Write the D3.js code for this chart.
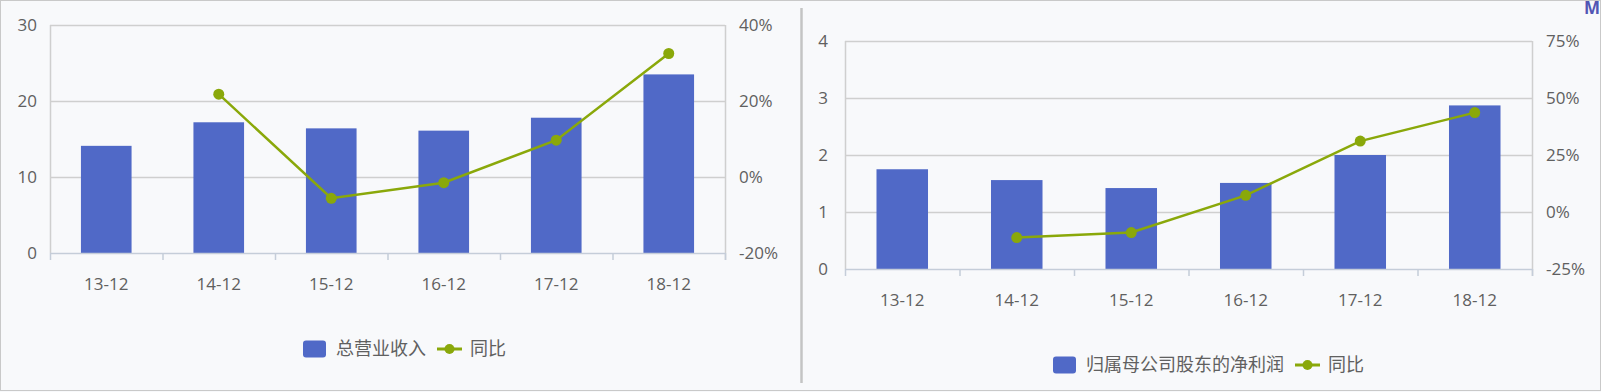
<!DOCTYPE html>
<html><head><meta charset="utf-8">
<script src="https://cdn.jsdelivr.net/npm/d3@7/dist/d3.min.js"></script>
<style>
html,body{margin:0;padding:0;background:#f8f9fb;}
svg{display:block;}
text{font-family:"Open Sans","Noto Sans CJK SC",sans-serif;}
</style></head>
<body><svg id="c" width="1601" height="392"></svg>
<script>
const categories = ["13-12","14-12","15-12","16-12","17-12","18-12"];
const revenue = [14.1, 17.2, 16.4, 16.1, 17.8, 23.5];
const revenueYoY = [null, 21.8, -5.6, -1.5, 9.7, 32.5];
const profit = [1.75, 1.56, 1.42, 1.51, 2.0, 2.87];
const profitYoY = [null, -11.2, -9.0, 7.3, 31.1, 43.6];
const leftTicks1 = [0, 10, 20, 30];
const rightTicks1 = [-20, 0, 20, 40];
const leftTicks2 = [0, 1, 2, 3, 4];
const rightTicks2 = [-25, 0, 25, 50, 75];
const barName1 = "总营业收入";
const barName2 = "归属母公司股东的净利润";
const lineName = "同比";

const BAR = "#5069c7", LINE = "#8aa80a", GRID = "#cfcfcf", AXIS = "#c5cdd9", TXT = "#606060";
const svg = d3.select("#c");

// outer frame
svg.append("rect").attr("x",0.5).attr("y",0.5).attr("width",1600).attr("height",390)
  .attr("fill","#f8f9fb").attr("stroke","#c9c9c9");
svg.append("line").attr("x1",801.5).attr("x2",801.5).attr("y1",8).attr("y2",383)
  .attr("stroke","#c4c4c4").attr("stroke-width",2.5);
svg.append("text").attr("x",1584).attr("y",14).attr("fill","#5256b4")
  .attr("font-weight","bold").attr("font-size",17).text("M");

function chart(o){
  const x = d3.scaleBand().domain(categories).range([o.l, o.r]).paddingInner(0.55).paddingOuter(0.275);
  const yL = d3.scaleLinear().domain([o.lt[0], o.lt[o.lt.length-1]]).range([o.b, o.t]);
  const yR = d3.scaleLinear().domain([o.rt[0], o.rt[o.rt.length-1]]).range([o.b, o.t]);
  const g = svg.append("g");
  g.selectAll(".grid").data(o.lt.slice(1)).join("line")
    .attr("x1",o.l).attr("x2",o.r).attr("y1",d=>Math.round(yL(d))+0.5).attr("y2",d=>Math.round(yL(d))+0.5)
    .attr("stroke",GRID).attr("stroke-width",1.5);
  g.append("line").attr("x1",o.l+0.5).attr("x2",o.l+0.5).attr("y1",o.t).attr("y2",o.b).attr("stroke",GRID).attr("stroke-width",1.5);
  g.append("line").attr("x1",o.r+0.5).attr("x2",o.r+0.5).attr("y1",o.t).attr("y2",o.b+7).attr("stroke",GRID).attr("stroke-width",1.5);
  g.selectAll(".bar").data(o.bars).join("rect")
    .attr("x",(d,i)=>x(categories[i])).attr("width",x.bandwidth())
    .attr("y",d=>yL(d)).attr("height",d=>yL(0)-yL(d)).attr("fill",BAR);
  const xa = g.append("g").attr("transform",`translate(0,${o.b})`)
    .call(d3.axisBottom(x).tickSize(0).tickPadding(25));
  xa.select(".domain").remove();
  xa.selectAll("text").attr("font-size",17).attr("fill",TXT).attr("font-family",'"Open Sans",sans-serif');
  g.append("line").attr("x1",o.l).attr("x2",o.r).attr("y1",o.b+0.5).attr("y2",o.b+0.5).attr("stroke",AXIS).attr("stroke-width",1.5);
  const step = x.step();
  g.selectAll(".xt").data(d3.range(categories.length+1)).join("line")
    .attr("x1",i=>o.l+i*step+0.5).attr("x2",i=>o.l+i*step+0.5).attr("y1",o.b).attr("y2",o.b+7)
    .attr("stroke",AXIS).attr("stroke-width",1.5);
  const la = g.append("g").attr("transform",`translate(${o.l},0)`)
    .call(d3.axisLeft(yL).tickValues(o.lt).tickSize(0).tickPadding(o.lpad).tickFormat(d3.format("d")));
  la.select(".domain").remove();
  la.selectAll("text").attr("font-size",17).attr("fill",TXT).attr("font-family",'"Open Sans",sans-serif');
  const ra = g.append("g").attr("transform",`translate(${o.r},0)`)
    .call(d3.axisRight(yR).tickValues(o.rt).tickSize(0).tickPadding(14).tickFormat(d=>d+"%"));
  ra.select(".domain").remove();
  ra.selectAll("text").attr("font-size",17).attr("fill",TXT).attr("font-family",'"Open Sans",sans-serif');
  const pts = o.line.map((v,i)=>({v,c:categories[i]})).filter(d=>d.v!==null);
  const line = d3.line().x(d=>x(d.c)+x.bandwidth()/2).y(d=>yR(d.v));
  g.append("path").datum(pts).attr("d",line).attr("fill","none").attr("stroke",LINE).attr("stroke-width",2.5);
  g.selectAll(".pt").data(pts).join("circle")
    .attr("cx",d=>x(d.c)+x.bandwidth()/2).attr("cy",d=>yR(d.v)).attr("r",5.5).attr("fill",LINE);
  const lg = g.append("g").attr("transform",`translate(${o.legX},${o.legY})`);
  lg.append("rect").attr("x",0).attr("y",-8.5).attr("width",23).attr("height",17).attr("rx",3).attr("fill",BAR);
  const t1 = lg.append("text").attr("x",33).attr("y",0).attr("dy","0.36em").attr("font-size",18).attr("fill",TXT)
    .attr("font-family",'"Noto Sans CJK SC",sans-serif').text(o.barName);
  const w = t1.node().getComputedTextLength();
  const lx = 33 + w + 11;
  lg.append("line").attr("x1",lx).attr("x2",lx+25).attr("y1",0).attr("y2",0).attr("stroke",LINE).attr("stroke-width",3);
  lg.append("circle").attr("cx",lx+12.5).attr("cy",0).attr("r",5).attr("fill",LINE);
  lg.append("text").attr("x",lx+33).attr("y",0).attr("dy","0.36em").attr("font-size",18).attr("fill",TXT)
    .attr("font-family",'"Noto Sans CJK SC",sans-serif').text(lineName);
}

chart({l:50,r:725,t:25,b:253,lt:leftTicks1,rt:rightTicks1,bars:revenue,line:revenueYoY,lpad:13,
  barName:barName1,legX:303,legY:349});
chart({l:845,r:1532,t:41,b:269,lt:leftTicks2,rt:rightTicks2,bars:profit,line:profitYoY,lpad:17,
  barName:barName2,legX:1053,legY:365});
</script></body></html>
